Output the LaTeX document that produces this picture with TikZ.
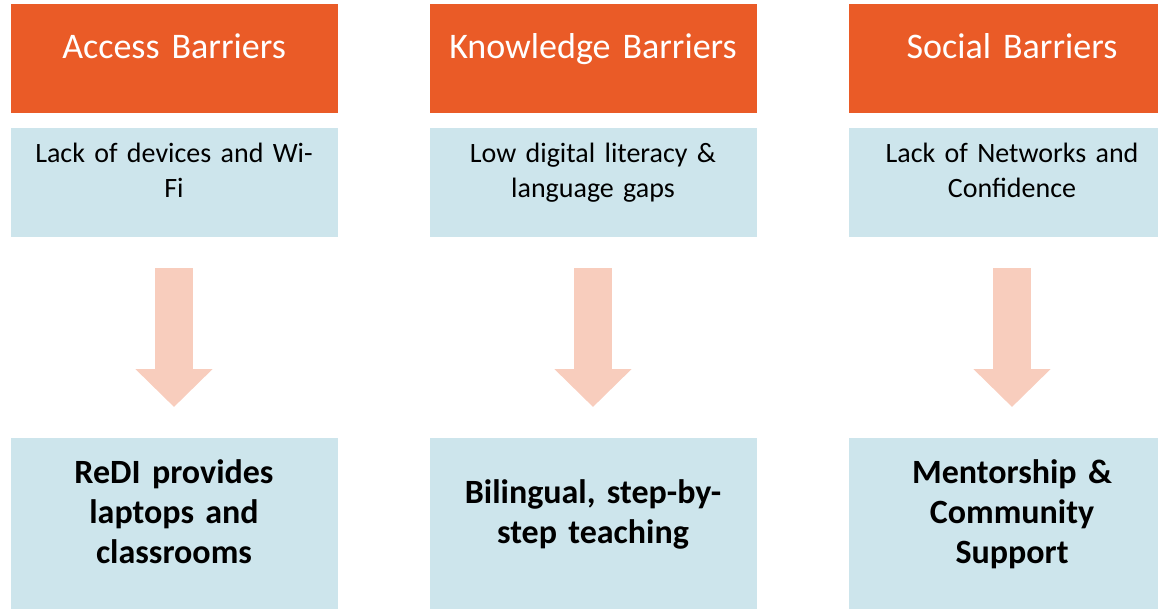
\documentclass[tikz,border=0pt]{standalone}
\usepackage{fontspec}
\setmainfont{Carlito}
\usepackage{tikz}
\usetikzlibrary{arrows.meta, calc, positioning}
\definecolor{barrierorange}{RGB}{234,91,39}
\definecolor{boxblue}{RGB}{205,229,236}
\definecolor{arrowpink}{RGB}{248,205,189}

\begin{document}
\begin{tikzpicture}[x=1pt,y=-1pt,
		headbox/.style={fill=barrierorange, text=white, anchor=north, inner xsep=0pt, inner ysep=0pt, text width=327pt, align=center, text height=54pt, text depth=55pt, font=\fontsize{36}{44}\selectfont},
		probbox/.style={fill=boxblue, anchor=north, inner xsep=8pt, inner ysep=0pt, text width=311pt, align=center, text height=34pt, text depth=75pt, font=\fontsize{28}{35}\selectfont},
		solbox/.style={fill=boxblue, anchor=north, inner xsep=8pt, inner ysep=0pt, text width=311pt, align=center, text depth=160pt, font=\fontsize{34}{40}\selectfont\bfseries},
		downarrow/.style={draw=arrowpink, line width=38pt, line cap=butt, -{Triangle[length=38pt,width=75pt,fill=arrowpink]}}]
		\useasboundingbox (0,0) rectangle (1158,609);
		
		\node(headA)  [headbox] at (174,4)  {Access Barriers};
		\node(headK)  [headbox] at (593,4)  {Knowledge Barriers};
		\node(headS)  [headbox] at (1012,4)  {Social Barriers};
		
		\node(probA)  [probbox] at (174,128)  {Lack of devices and Wi-\\Fi};
		\node(probK)  [probbox] at (593,128)  {Low digital literacy \&\\language gaps};
		\node(probS)  [probbox] at (1012,128)  {Lack of Networks and\\Confidence};
		
		\node(solA)  [solbox, text height=45pt] at (174,438)  {ReDI provides\\laptops and\\classrooms};
		\node(solK)  [solbox, text height=65pt] at (593,438)  {Bilingual, step-by-\\step teaching};
		\node(solS)  [solbox, text height=45pt] at (1012,438)  {Mentorship \&\\Community\\Support};
		
		\draw[downarrow] ([yshift=-31pt]probA.south) -- ([yshift=31pt]solA.north);
		\draw[downarrow] ([yshift=-31pt]probK.south) -- ([yshift=31pt]solK.north);
		\draw[downarrow] ([yshift=-31pt]probS.south) -- ([yshift=31pt]solS.north);
		
		\end{tikzpicture}
\end{document}
